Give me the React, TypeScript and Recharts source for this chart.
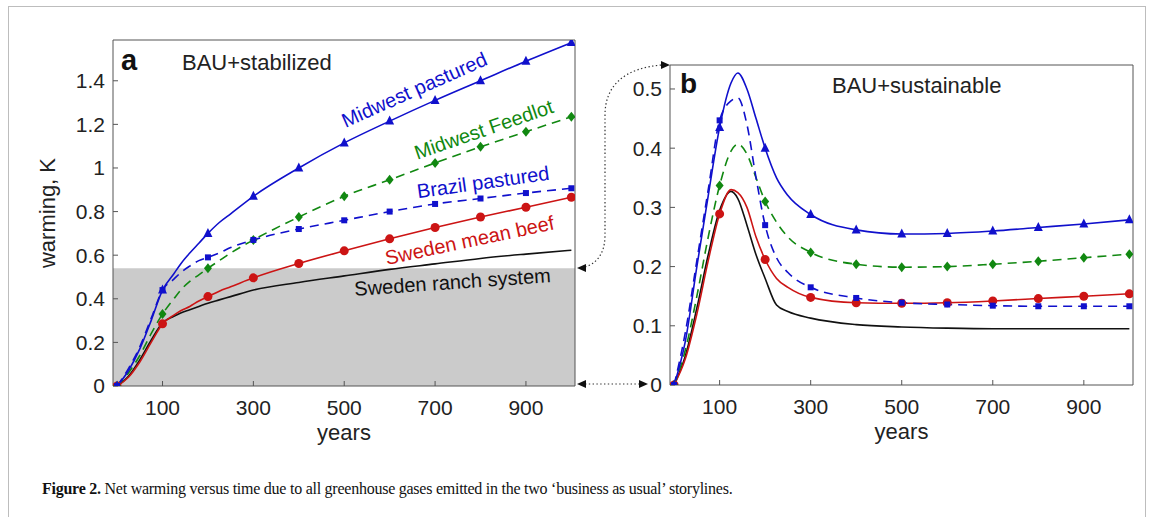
import { LineChart, Line, XAxis, YAxis, ReferenceArea, Label } from 'recharts';

const years = [0, 25, 50, 75, 100, 125, 140, 160, 180, 200, 225, 250, 300, 400, 500, 600, 700, 800, 900, 1000];

// panel a: BAU+stabilized
const midwestPasturedA = [0, 0.07, 0.17, 0.3, 0.44, 0.515, 0.56, 0.61, 0.655, 0.7, 0.75, 0.79, 0.87, 1.0, 1.115, 1.215, 1.31, 1.4, 1.49, 1.575];
const midwestFeedlotA = [0, 0.06, 0.14, 0.24, 0.33, 0.4, 0.44, 0.48, 0.51, 0.54, 0.575, 0.61, 0.67, 0.775, 0.87, 0.946, 1.023, 1.097, 1.166, 1.235];
const brazilPasturedA = [0, 0.08, 0.18, 0.31, 0.44, 0.49, 0.52, 0.55, 0.575, 0.59, 0.61, 0.635, 0.67, 0.72, 0.76, 0.8, 0.835, 0.86, 0.885, 0.907];
const swedenBeefA = [0, 0.04, 0.11, 0.2, 0.285, 0.325, 0.345, 0.365, 0.39, 0.41, 0.435, 0.455, 0.496, 0.562, 0.62, 0.675, 0.727, 0.775, 0.82, 0.866];
const swedenRanchA = [0, 0.045, 0.12, 0.21, 0.29, 0.32, 0.335, 0.35, 0.365, 0.38, 0.395, 0.41, 0.44, 0.475, 0.505, 0.535, 0.56, 0.585, 0.605, 0.623];

// panel b: BAU+sustainable
const midwestPasturedB = [0, 0.075, 0.2, 0.32, 0.435, 0.51, 0.527, 0.5, 0.45, 0.4, 0.35, 0.32, 0.288, 0.262, 0.255, 0.256, 0.26, 0.266, 0.272, 0.279];
const midwestFeedlotB = [0, 0.06, 0.15, 0.25, 0.337, 0.395, 0.407, 0.39, 0.35, 0.31, 0.275, 0.25, 0.224, 0.204, 0.199, 0.2, 0.204, 0.209, 0.215, 0.221];
const brazilPasturedB = [0, 0.09, 0.21, 0.33, 0.447, 0.48, 0.485, 0.44, 0.35, 0.27, 0.215, 0.19, 0.165, 0.147, 0.139, 0.136, 0.134, 0.133, 0.133, 0.133];
const swedenBeefB = [0, 0.045, 0.12, 0.21, 0.289, 0.33, 0.325, 0.3, 0.25, 0.212, 0.18, 0.165, 0.148, 0.139, 0.138, 0.139, 0.142, 0.146, 0.15, 0.154];
const swedenRanchB = [0, 0.05, 0.13, 0.22, 0.295, 0.327, 0.315, 0.27, 0.22, 0.18, 0.135, 0.124, 0.113, 0.102, 0.098, 0.096, 0.095, 0.095, 0.095, 0.095];

const xTicks = [100, 300, 500, 700, 900];
const yTicksA = [0, 0.2, 0.4, 0.6, 0.8, 1, 1.2, 1.4];
const yTicksB = [0, 0.1, 0.2, 0.3, 0.4, 0.5];
const xDomain = [-9, 1008];

const dataA = years.map((year, i) => ({
  year,
  pastured: midwestPasturedA[i],
  feedlot: midwestFeedlotA[i],
  brazil: brazilPasturedA[i],
  beef: swedenBeefA[i],
  ranch: swedenRanchA[i],
}));

const dataB = years.map((year, i) => ({
  year,
  pastured: midwestPasturedB[i],
  feedlot: midwestFeedlotB[i],
  brazil: brazilPasturedB[i],
  beef: swedenBeefB[i],
  ranch: swedenRanchB[i],
}));

const BLUE = '#1010cc';
const GREEN = '#118811';
const RED = '#cc1414';
const BLACK = '#111111';
const AXIS = '#555555';
const FONT = '"Liberation Sans", Arial, Helvetica, sans-serif';

// markers only every 100 years, like the original
const marker = (shape: string, color: string) => (props: any) => {
  const { cx, cy, payload, index } = props;
  const key = `m-${shape}-${index}`;
  if (cx == null || cy == null || payload.year % 100 !== 0) return <g key={key} />;
  if (shape === 'triangle') {
    return <polygon key={key} points={`${cx},${cy - 5.5} ${cx - 4.5},${cy + 3.5} ${cx + 4.5},${cy + 3.5}`} fill={color} />;
  }
  if (shape === 'square') {
    return <rect key={key} x={cx - 3} y={cy - 3} width={6} height={6} fill={color} />;
  }
  if (shape === 'diamond') {
    return <polygon key={key} points={`${cx},${cy - 5} ${cx + 4},${cy} ${cx},${cy + 5} ${cx - 4},${cy}`} fill={color} />;
  }
  return <circle key={key} cx={cx} cy={cy} r={4.5} fill={color} />;
};

const tickStyle = { fontSize: 21, fill: '#222', fontFamily: FONT };

const YearsLabel = (props: any) => {
  const { viewBox } = props;
  return (
    <text x={viewBox.x + viewBox.width / 2} y={viewBox.y + 54} textAnchor="middle" fontSize={22} fill="#222" fontFamily={FONT}>
      years
    </text>
  );
};

const WarmingLabel = (props: any) => {
  const { viewBox } = props;
  const x = viewBox.x + 2;
  const y = viewBox.y + viewBox.height / 2;
  return (
    <text x={x} y={y} transform={`rotate(-90 ${x} ${y})`} textAnchor="middle" fontSize={22} fill="#222" fontFamily={FONT}>
      warming, K
    </text>
  );
};

const seriesLines = () => [
  <Line key="ranch" dataKey="ranch" type="monotone" stroke={BLACK} strokeWidth={1.6} dot={false} isAnimationActive={false} />,
  <Line key="beef" dataKey="beef" type="monotone" stroke={RED} strokeWidth={1.6} dot={marker('circle', RED)} isAnimationActive={false} />,
  <Line key="feedlot" dataKey="feedlot" type="monotone" stroke={GREEN} strokeWidth={1.6} strokeDasharray="9 6" dot={marker('diamond', GREEN)} isAnimationActive={false} />,
  <Line key="brazil" dataKey="brazil" type="monotone" stroke={BLUE} strokeWidth={1.6} strokeDasharray="9 6" dot={marker('square', BLUE)} isAnimationActive={false} />,
  <Line key="pastured" dataKey="pastured" type="monotone" stroke={BLUE} strokeWidth={1.6} dot={marker('triangle', BLUE)} isAnimationActive={false} />,
];

const frameAxes = (yDomain: number[], yTicks: number[]) => [
  <XAxis key="xt" xAxisId="top" orientation="top" type="number" dataKey="year" domain={xDomain} allowDataOverflow ticks={xTicks} height={1} tick={false} tickSize={-5} stroke={AXIS} />,
  <YAxis key="yr" yAxisId="right" orientation="right" type="number" domain={yDomain} allowDataOverflow ticks={yTicks} width={1} tick={false} tickSize={-5} stroke={AXIS} />,
];

const App = () => {
  const domainA = [0, 1.587];
  const domainB = [0, 0.5405];
  return (
    <div style={{ position: 'absolute', left: 0, top: 0, width: 1153, height: 517, background: '#fff', overflow: 'hidden' }}>
      <div style={{ position: 'absolute', left: 0, top: 0 }}>
        <LineChart width={600} height={460} data={dataA} margin={{ top: 39, right: 24, bottom: 44, left: 53 }}>
          <ReferenceArea y1={0} y2={0.54} fill="#cbcbcb" fillOpacity={1} stroke="none" />
          <XAxis type="number" dataKey="year" domain={xDomain} allowDataOverflow ticks={xTicks} height={30} tickSize={-5} tickMargin={19} stroke={AXIS} tick={tickStyle}>
            <Label content={YearsLabel} />
          </XAxis>
          <YAxis type="number" domain={domainA} allowDataOverflow ticks={yTicksA} width={60} tickSize={-5} tickMargin={13} stroke={AXIS} tick={tickStyle}>
            <Label content={WarmingLabel} />
          </YAxis>
          {frameAxes(domainA, yTicksA)}
          {seriesLines()}
        </LineChart>
      </div>
      <div style={{ position: 'absolute', left: 600, top: 0 }}>
        <LineChart width={553} height={460} data={dataB} margin={{ top: 64, right: 19, bottom: 45, left: 10 }}>
          <XAxis type="number" dataKey="year" domain={xDomain} allowDataOverflow ticks={xTicks} height={30} tickSize={-5} tickMargin={19} stroke={AXIS} tick={tickStyle}>
            <Label content={YearsLabel} />
          </XAxis>
          <YAxis type="number" domain={domainB} allowDataOverflow ticks={yTicksB} width={60} tickSize={-5} tickMargin={13} stroke={AXIS} tick={tickStyle} />
          {frameAxes(domainB, yTicksB)}
          {seriesLines()}
        </LineChart>
      </div>

      <svg width={1153} height={517} style={{ position: 'absolute', left: 0, top: 0, pointerEvents: 'none' }}>
        <rect x={8.5} y={6.5} width={1137} height={530} fill="none" stroke="#bdbdbd" strokeWidth={1} />

        <g fontFamily={FONT}>
          <text x={121} y={70} fontSize={29} fontWeight="bold" fill="#111">a</text>
          <text x={182} y={70} fontSize={22} fill="#222">BAU+stabilized</text>
          <text x={680} y={93} fontSize={28} fontWeight="bold" fill="#111">b</text>
          <text x={832} y={93} fontSize={22} fill="#222">BAU+sustainable</text>

          <text x={417} y={96} fontSize={20} fill={BLUE} textAnchor="middle" transform="rotate(-24 417 96)">Midwest pastured</text>
          <text x={486} y={136} fontSize={20} fill={GREEN} textAnchor="middle" transform="rotate(-19 486 136)">Midwest Feedlot</text>
          <text x={484} y={189} fontSize={20} fill={BLUE} textAnchor="middle" transform="rotate(-8 484 189)">Brazil pastured</text>
          <text x={471} y={247} fontSize={20} fill={RED} textAnchor="middle" transform="rotate(-12 471 247)">Sweden mean beef</text>
          <text x={453} y={289} fontSize={20} fill={BLACK} textAnchor="middle" transform="rotate(-4 453 289)">Sweden ranch system</text>
        </g>

        <g fill="none" stroke="#333" strokeWidth={1.2} strokeDasharray="1.4 2.4">
          <path d="M 585 267 C 598 263, 605 252, 605 235 L 605 115 C 605 85, 625 68, 662 65" />
          <path d="M 585 384 L 640 384" />
        </g>
        <g fill="#111">
          <polygon points="577,268 586,264 586,272" />
          <polygon points="670,65 661,61 661,69" />
          <polygon points="577,384 586,380 586,388" />
          <polygon points="648,384 639,380 639,388" />
        </g>
      </svg>

      <div style={{ position: 'absolute', left: 42, top: 480, fontFamily: '"Liberation Serif", "Times New Roman", serif', fontSize: 16, letterSpacing: -0.25, color: '#111', whiteSpace: 'nowrap' }}>
        <b>Figure 2.</b> Net warming versus time due to all greenhouse gases emitted in the two ‘business as usual’ storylines.
      </div>
    </div>
  );
};

export default App;
